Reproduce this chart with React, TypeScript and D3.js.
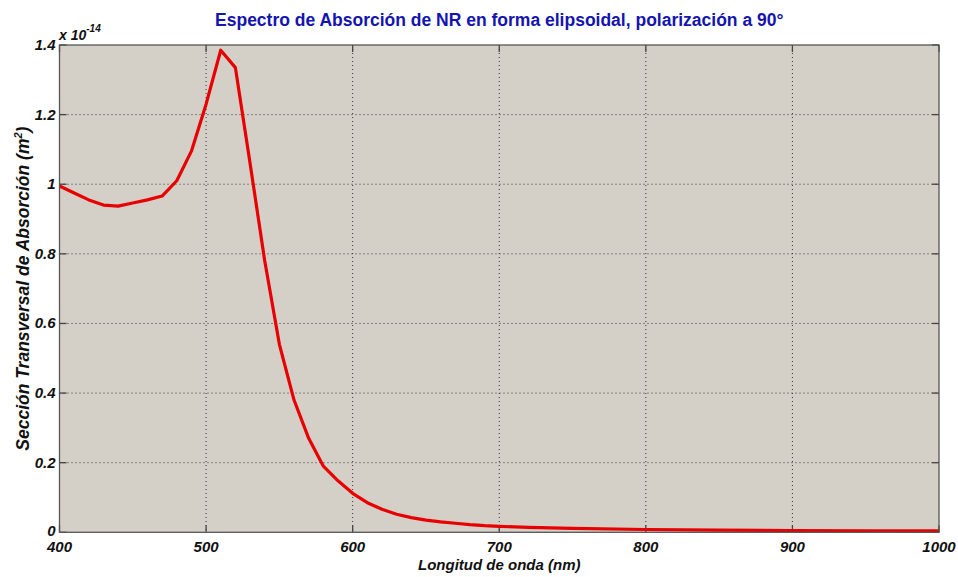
import React from "react";
import * as d3 from "d3";

const wavelengths = [400, 410, 420, 430, 440, 450, 460, 470, 480, 490, 500, 510, 520, 530, 540, 550, 560, 570, 580, 590, 600, 610, 620, 630, 640, 650, 660, 670, 680, 690, 700, 720, 750, 800, 850, 900, 950, 1000];
const absorption = [0.995, 0.975, 0.955, 0.94, 0.937, 0.946, 0.955, 0.966, 1.01, 1.095, 1.23, 1.385, 1.335, 1.06, 0.78, 0.54, 0.38, 0.27, 0.19, 0.148, 0.112, 0.085, 0.066, 0.052, 0.042, 0.035, 0.030, 0.026, 0.022, 0.019, 0.017, 0.014, 0.011, 0.008, 0.006, 0.005, 0.0045, 0.004];
const xTicks = [400, 500, 600, 700, 800, 900, 1000];
const yTicks = [0, 0.2, 0.4, 0.6, 0.8, 1, 1.2, 1.4];

const title = "Espectro de Absorción de NR en forma elipsoidal, polarización a 90°";
const xLabel = "Longitud de onda (nm)";

export default function App() {
  const W = 958, H = 577;
  const left = 59.5, right = 939, top = 45, bottom = 532.3;
  const x = d3.scaleLinear().domain([400, 1000]).range([left, right]);
  const y = d3.scaleLinear().domain([0, 1.4]).range([bottom, top]);
  const line = d3.line<number>().x((_, i) => x(wavelengths[i])).y((d) => y(d));
  const pts = absorption;
  const font = "'Liberation Sans', Arial, sans-serif";
  const tickLen = 7;
  const fmtY = (v: number) => String(v);
  return (
    <svg width={W} height={H} style={{ position: "absolute", left: 0, top: 0, background: "#fff" }}>
      <rect x={left} y={top} width={right - left} height={bottom - top} fill="#d4d0c8" />
      {xTicks.slice(1, -1).map((t) => (
        <line key={"gx" + t} x1={x(t)} x2={x(t)} y1={top} y2={bottom} stroke="#333" strokeWidth={1} strokeDasharray="1,3" />
      ))}
      {yTicks.slice(1, -1).map((t) => (
        <line key={"gy" + t} x1={left} x2={right} y1={y(t)} y2={y(t)} stroke="#333" strokeWidth={1} strokeDasharray="1,3" />
      ))}
      {xTicks.map((t) => (
        <g key={"tx" + t}>
          <line x1={x(t)} x2={x(t)} y1={bottom} y2={bottom - tickLen} stroke="#444" strokeWidth={1.3} />
          <line x1={x(t)} x2={x(t)} y1={top} y2={top + tickLen} stroke="#444" strokeWidth={1.3} />
          <text x={x(t)} y={bottom + 20} textAnchor="middle" fontFamily={font} fontWeight="bold" fontStyle="italic" fontSize={15} fill="#111">{t}</text>
        </g>
      ))}
      {yTicks.map((t) => (
        <g key={"ty" + t}>
          <line x1={left} x2={left + tickLen} y1={y(t)} y2={y(t)} stroke="#444" strokeWidth={1.3} />
          <line x1={right} x2={right - tickLen} y1={y(t)} y2={y(t)} stroke="#444" strokeWidth={1.3} />
          <text x={left - 4} y={t === 0 ? y(t) + 4 : y(t) + 5} textAnchor="end" fontFamily={font} fontWeight="bold" fontStyle="italic" fontSize={15} fill="#111">{fmtY(t)}</text>
        </g>
      ))}
      <path d={line(pts) || ""} fill="none" stroke="#e80000" strokeWidth={3.2} strokeLinejoin="round" />
      <rect x={left} y={top} width={right - left} height={bottom - top} fill="none" stroke="#555" strokeWidth={1.3} />
      <text x={59} y={40} fontFamily={font} fontWeight="bold" fontStyle="italic" fontSize={14} fill="#111">
        x 10<tspan dy={-8} fontSize={10}>-14</tspan>
      </text>
      <text x={(left + right) / 2} y={26} textAnchor="middle" fontFamily={font} fontWeight="bold" fontSize={17.5} fill="#1414b0">{title}</text>
      <text x={(left + right) / 2} y={570} textAnchor="middle" fontFamily={font} fontWeight="bold" fontStyle="italic" fontSize={15} fill="#111">{xLabel}</text>
      <text transform={`translate(29, ${(top + bottom) / 2}) rotate(-90)`} textAnchor="middle" fontFamily={font} fontWeight="bold" fontStyle="italic" fontSize={17.5} fill="#111">
        Sección Transversal de Absorción (m<tspan dy={-7} fontSize={11}>2</tspan><tspan dy={7}>)</tspan>
      </text>
    </svg>
  );
}
